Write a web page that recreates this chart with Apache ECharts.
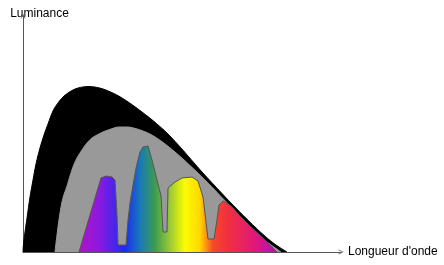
<!DOCTYPE html>
<html>
<head>
<meta charset="utf-8">
<script src="https://cdn.jsdelivr.net/npm/echarts@6/dist/echarts.min.js"></script>
<style>
html,body{margin:0;padding:0;background:#fff;}
#c{width:444px;height:265px;}
</style>
</head>
<body>
<div id="c"></div>
<script>
// Black body curve (outer envelope)
var blackX = [0,0.5,2,4,7,10,13,17,21,25,30,35,40,45,50,55,60,65,72,80,88,96,104,112,120,128,136,144,152,160,168,176,184,192,200,208,216,224,232,240,248,256,264];
var blackY = [0,8,20,34,55,72,88,104,117,128,141,149,155,159,162,164,165,165.5,164.9,163,159.8,155.8,150.8,145.2,139.2,133,126.2,119,110.6,101.8,92.6,83.4,74.6,66,57.4,49,40.8,32.8,25,17.6,10.8,5,0];
// Gray curve
var grayX = [32,34,37,40,44,47,50,54,59,64,69,74,80,88,96,104,112,120,128,136,144,152,160,168,176,184,192,200,208,216,224,232,240,248,254,258];
var grayY = [0,17,39,54,66,76,85,94,102,109,114,117,120,123,125,125,123.6,121,117.4,112.4,106.6,100,93,85.6,78,70,61.8,53.4,45,36.6,28.4,20.6,13.4,7,2.8,0];
// Spectrum with absorption lines
var specX = [56,78,83,89,92,94,95,103,105,107,110,113,117,120,125,129,134,138,140,144,145,152,159,169,175,180,183,185,191,194,196,200,204,209,217,227,240,254];
var specY = [0,74,76,75,72,37,7,7,32,49,67,84,100,105,106,92,72,56,20,20,64,70,74,75,71,55,30,13,13,32,47,51,49,45,36,26,14,0];
// Spectrum colour stops
var specStops = [0,0.106,0.232,0.308,0.384,0.47,0.535,0.61,0.677,0.75,0.89,1];
var specColors = ['#b012c8','#8a1ae0','#1a2cf2','#1878b8','#3c9c50','#a8d030','#fcfc00','#ffd800','#f84828','#f03040','#e0187a','#b010b8'];

var xName = "Longueur d'onde";
var yName = "Luminance";

function pairs(xs, ys){ return xs.map(function(x,i){ return [x, ys[i]]; }); }

var chev = 'path://M0,10 L5,0 L10,10 L8.6,10 L5,2.8 L1.4,10 Z';
var font = "'Liberation Sans', Arial, sans-serif";

var chart = echarts.init(document.getElementById('c'), null, {renderer:'canvas'});
chart.setOption({
  animation:false,
  backgroundColor:'#fff',
  grid:{left:23, right:103, top:16, bottom:13},
  xAxis:{
    type:'value', min:0, max:318,
    name:xName, nameLocation:'end', nameGap:7,
    nameTextStyle:{color:'#000', fontSize:12, fontFamily:font},
    axisLine:{show:true, lineStyle:{color:'#555', width:1}, symbol:['none', chev], symbolSize:[7,5]},
    axisTick:{show:false}, axisLabel:{show:false}, splitLine:{show:false}
  },
  yAxis:{
    type:'value', min:0, max:236,
    name:yName, nameLocation:'end', nameGap:-4,
    nameTextStyle:{color:'#000', fontSize:12, fontFamily:font, align:'center', padding:[0,0,0,33]},
    axisLine:{show:true, lineStyle:{color:'#555', width:1}, symbol:['none', chev], symbolSize:[7,5]},
    axisTick:{show:false}, axisLabel:{show:false}, splitLine:{show:false}
  },
  series:[
    {type:'line', data:pairs(blackX, blackY), smooth:0.4, symbol:'none',
     lineStyle:{color:'#000', width:1}, areaStyle:{color:'#000', opacity:1}, z:2},
    {type:'line', data:pairs(grayX, grayY), smooth:0.4, symbol:'none',
     lineStyle:{color:'#999', width:1}, areaStyle:{color:'#999', opacity:1}, z:3},
    {type:'line', data:pairs(specX, specY), smooth:false, symbol:'none',
     lineStyle:{color:'#555', width:1},
     areaStyle:{opacity:1, color:{type:'linear', x:0, y:0, x2:1, y2:0,
       colorStops:specStops.map(function(s,i){ return {offset:s, color:specColors[i]}; })}}, z:4}
  ]
});
</script>
</body>
</html>
